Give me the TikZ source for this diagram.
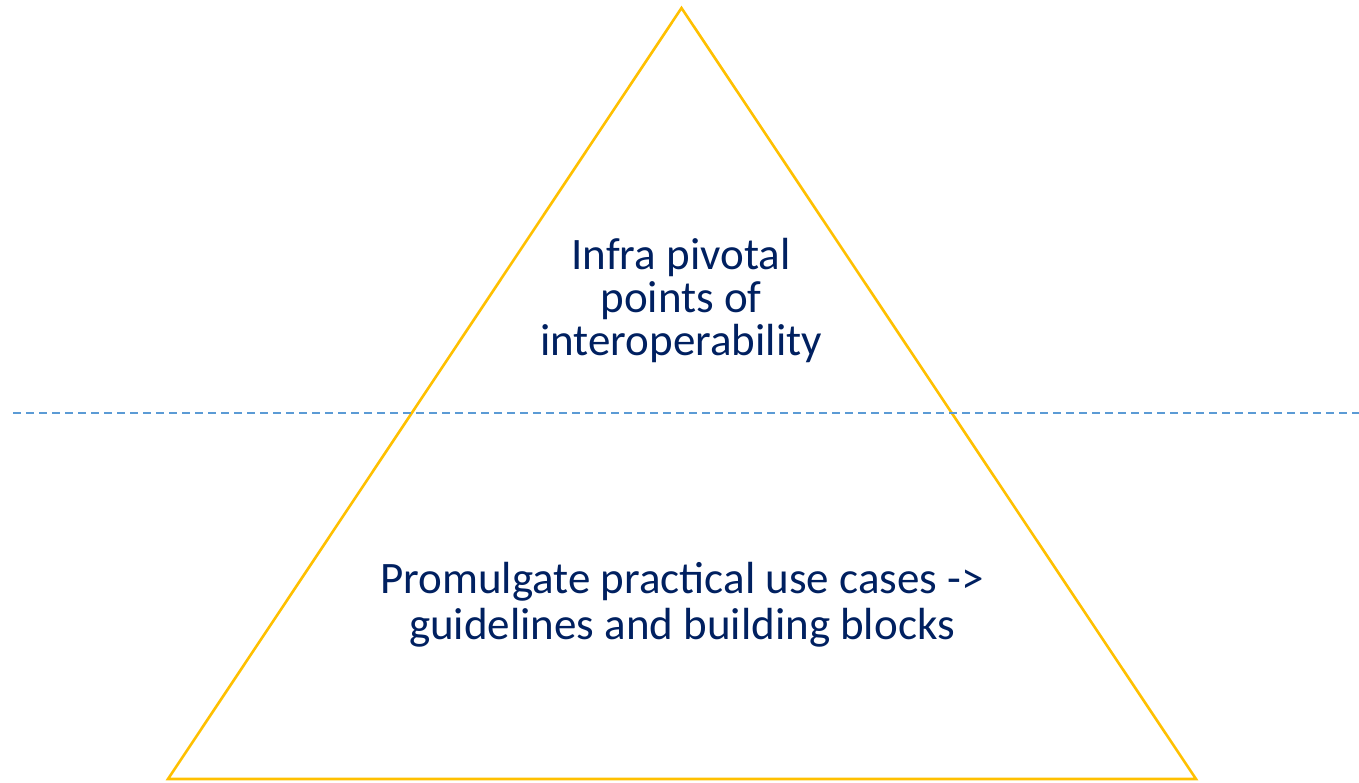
\documentclass[tikz,border=0pt]{standalone}
\usepackage{fontspec}
\setmainfont{Carlito}
\definecolor{gold}{HTML}{FFC000}
\definecolor{dashblue}{HTML}{5B9BD5}
\definecolor{navy}{HTML}{002060}
\begin{document}
\begin{tikzpicture}[x=1pt,y=-1pt,
  tri/.style={draw=gold,line width=2.6pt,line join=miter},
  divider/.style={draw=dashblue,line width=1.6pt,dash pattern=on 8pt off 5pt},
  label/.style={text=navy,align=center,inner sep=0pt}]
\useasboundingbox (0,0) rectangle (1359,782);
\coordinate (apex) at (681.5,8);
\coordinate (bl) at (168,779);
\coordinate (br) at (1196,779);
\draw[tri] (apex) -- (bl) -- (br) -- cycle;
\coordinate (dl) at (13,413);
\coordinate (dr) at (1359,413);
\draw[divider] (dl) -- (dr);
\node[label,font=\fontsize{45}{43}\selectfont] (top) at (681,300) {Infra pivotal\\points of\\interoperability};
\node[label,font=\fontsize{45}{46}\selectfont] (bottom) at (682,605) {Promulgate practical use cases ->\\guidelines and building blocks};
\end{tikzpicture}
\end{document}
